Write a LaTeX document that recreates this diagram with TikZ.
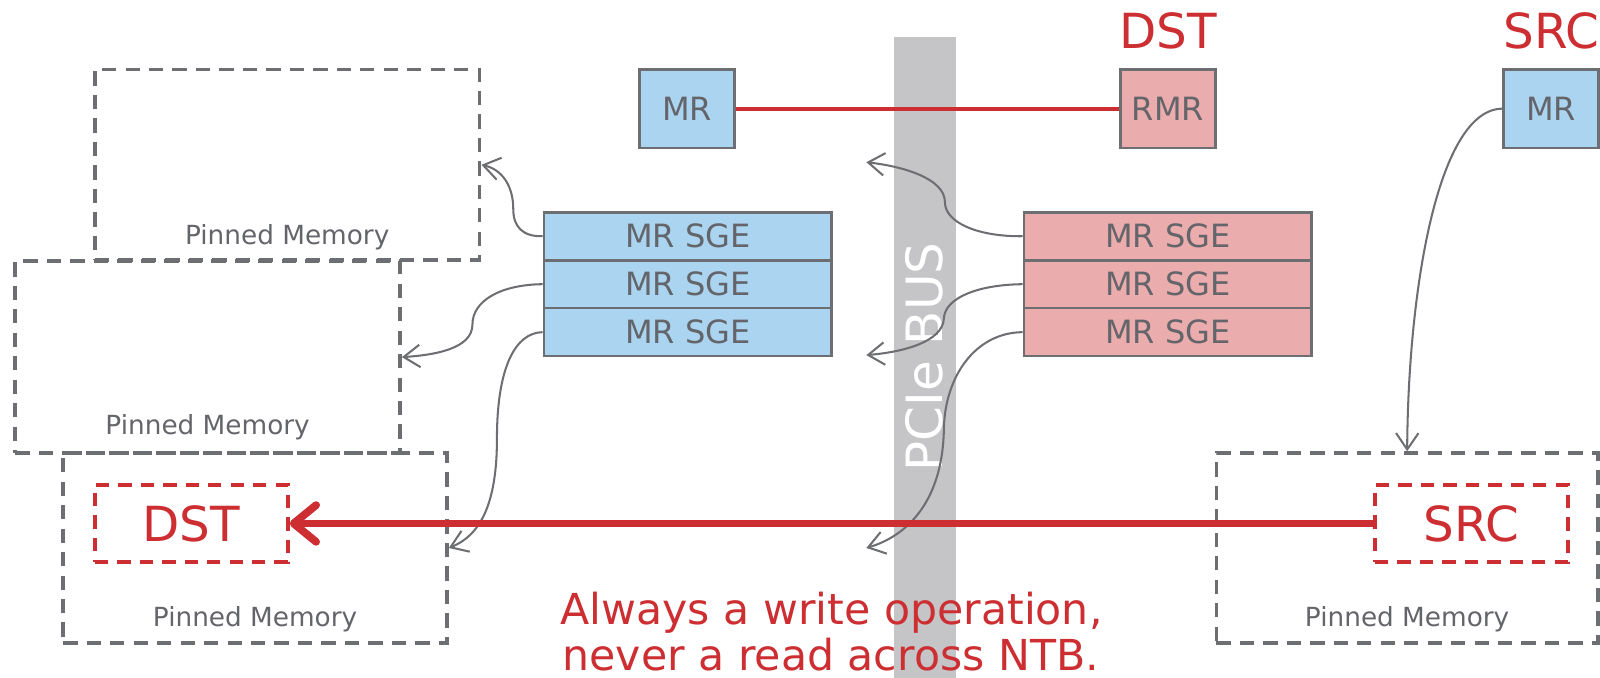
\documentclass[tikz,border=0pt]{standalone}
\usepackage{fontspec}
\setmainfont{DejaVu Sans}
\usetikzlibrary{arrows.meta}
\definecolor{bluefill}{RGB}{171,212,240}
\definecolor{pinkfill}{RGB}{235,172,173}
\definecolor{edgegray}{RGB}{109,110,113}
\definecolor{txtgray}{RGB}{100,101,106}
\definecolor{ntbred}{RGB}{204,46,50}
\definecolor{busgray}{RGB}{197,197,200}
\begin{document}
\begin{tikzpicture}[x=0.5pt,y=-0.5pt,
  regbox/.style={draw=edgegray,line width=1.3pt,inner sep=0pt,text=txtgray,
    font=\fontsize{15.7}{18}\selectfont},
  mrbox/.style={regbox,fill=bluefill,minimum width=46.5pt,minimum height=38.5pt},
  rmrbox/.style={regbox,fill=pinkfill,minimum width=46.5pt,minimum height=38.5pt},
  bsge/.style={regbox,fill=bluefill,minimum width=141pt,minimum height=23.5pt},
  psge/.style={regbox,fill=pinkfill,minimum width=141pt,minimum height=23.5pt},
  pinned/.style={draw=edgegray,line width=1.8pt,dash pattern=on 7pt off 4.5pt,inner sep=0pt},
  pmlabel/.style={text=txtgray,font=\fontsize{12.9}{15}\selectfont,inner sep=0pt},
  redbox/.style={draw=ntbred,line width=2pt,dash pattern=on 6.5pt off 4.5pt,inner sep=0pt,
    text=ntbred,font=\fontsize{23.7}{28}\selectfont,minimum width=94.5pt,minimum height=38pt},
  redtitle/.style={text=ntbred,font=\fontsize{23.7}{28}\selectfont,inner sep=0pt},
  conn/.style={draw=edgegray,line width=1pt,-{Straight Barb[length=8pt,width=11pt]}},
  notetext/.style={text=ntbred,font=\fontsize{20.9}{24}\selectfont,inner sep=0pt,anchor=base west},
]
\useasboundingbox (0,0) rectangle (1568,664);
% PCIe bus
\node[fill=busgray,minimum width=30.5pt,minimum height=314pt,inner sep=0pt,anchor=north] (bus) at (906.5,36) {};
\node[rotate=90,text=white,font=\fontsize{24.5}{28}\selectfont,inner sep=0pt] (busl) at (906,350) {PCIe BUS};
% pinned memory boxes
\node[pinned,minimum width=188.5pt,minimum height=93.5pt] (pm1) at (281.5,161.5) {};
\node[pinned,minimum width=188.5pt,minimum height=94pt] (pm2) at (203.5,350) {};
\node[pinned,minimum width=188pt,minimum height=93pt] (pm3) at (250,537) {};
\node[pinned,minimum width=187pt,minimum height=93pt] (pm4) at (1379,537) {};
\node[pmlabel] (pm1l) at (281.5,232) {Pinned Memory};
\node[pmlabel] (pm2l) at (203.5,419) {Pinned Memory};
\node[pmlabel] (pm3l) at (250,607) {Pinned Memory};
\node[pmlabel] (pm4l) at (1379,607) {Pinned Memory};
% red dashed boxes
\node[redbox] (dstbox) at (187.5,513) {DST};
\node[redbox] (srcbox) at (1442,513) {SRC};
% titles
\node[redtitle] (dsttitle) at (1145,30) {DST};
\node[redtitle,anchor=west] (srctitle) at (1473,30) {SRC};
% MR boxes
\node[mrbox] (mr1) at (673.5,106.5) {MR};
\node[rmrbox] (rmr) at (1144.5,106.5) {RMR};
\node[mrbox] (mr2) at (1520,106.5) {MR};
% SGE stacks
\node[bsge] (b1) at (674,231.5) {MR SGE};
\node[bsge] (b2) at (674,278.5) {MR SGE};
\node[bsge] (b3) at (674,325.5) {MR SGE};
\node[psge] (p1) at (1144.5,231.5) {MR SGE};
\node[psge] (p2) at (1144.5,278.5) {MR SGE};
\node[psge] (p3) at (1144.5,325.5) {MR SGE};
% free ends
\coordinate (q1) at (849,159);
\coordinate (q2) at (849,348);
\coordinate (q3) at (849,537);
% red link
\draw[ntbred,line width=2pt] (mr1.east) -- (rmr.west);
% connectors
\draw[conn] (b1.west) .. controls (512,232) and (503,222) .. (503,205) .. controls (503,182) and (492,166) .. (pm1.east);
\draw[conn] (b2.west) .. controls (490,279) and (463,295) .. (463,318) .. controls (463,342) and (425,348) .. (pm2.east);
\draw[conn] (b3.west) .. controls (505,326) and (487,360) .. (487,430) .. controls (487,495) and (470,525) .. (pm3.east);
\draw[conn] (p1.west) .. controls (958,232) and (926,218) .. (926,198) .. controls (926,175) and (885,163) .. (q1);
\draw[conn] (p2.west) .. controls (958,279) and (926,292) .. (925,312) .. controls (924,335) and (885,345) .. (q2);
\draw[conn] (p3.west) .. controls (955,326) and (926,370) .. (925,420) .. controls (924,490) and (890,525) .. (q3);
\draw[conn] (mr2.west) .. controls (1410,107) and (1380,280) .. (pm4.north);
% big write arrow
\draw[ntbred,line width=3.8pt,-{Straight Barb[length=11pt,width=18pt,round]}] (srcbox.west) -- (dstbox.east);
% note
\node[notetext] (note1) at (549,612) {Always a write operation,};
\node[notetext] (note2) at (551,657) {never a read across NTB.};
\end{tikzpicture}
\end{document}
